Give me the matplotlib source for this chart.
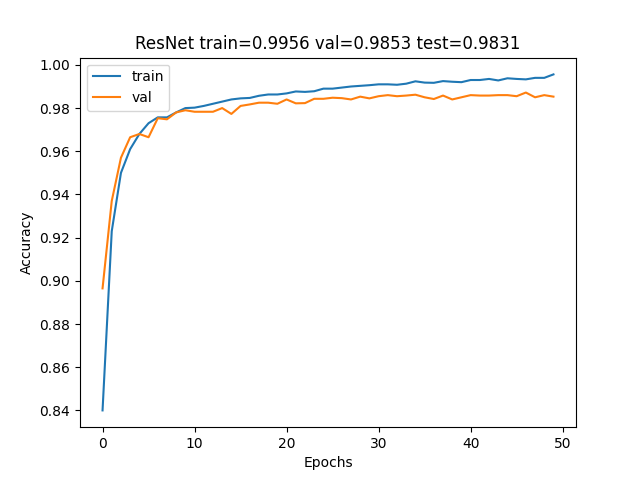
import matplotlib.pyplot as plt

train = [0.840, 0.923, 0.950, 0.961, 0.968, 0.973, 0.9757, 0.9757, 0.978, 0.980,
         0.9802, 0.981, 0.982, 0.983, 0.984, 0.9845, 0.9847, 0.9857, 0.9863, 0.9863,
         0.9868, 0.9877, 0.9875, 0.9878, 0.989, 0.989, 0.9895, 0.990, 0.9903, 0.9906,
         0.991, 0.991, 0.9908, 0.9913, 0.9924, 0.9918, 0.9917, 0.9925, 0.9922, 0.992,
         0.993, 0.993, 0.9935, 0.9928, 0.9938, 0.9935, 0.9933, 0.994, 0.994, 0.9956]
val = [0.8965, 0.937, 0.957, 0.9665, 0.968, 0.9665, 0.9753, 0.9748, 0.978, 0.979,
       0.9783, 0.9783, 0.9783, 0.980, 0.9773, 0.981, 0.9817, 0.9825, 0.9825, 0.982,
       0.984, 0.9822, 0.9823, 0.9843, 0.9843, 0.9848, 0.9846, 0.984, 0.9853, 0.9845,
       0.9855, 0.986, 0.9855, 0.9858, 0.9862, 0.985, 0.9842, 0.9858, 0.984, 0.985,
       0.986, 0.9858, 0.9858, 0.986, 0.986, 0.9855, 0.9872, 0.985, 0.986, 0.9853]
epochs = list(range(len(train)))

plt.figure(figsize=(6.4, 4.8), dpi=100)
plt.plot(epochs, train, label="train")
plt.plot(epochs, val, label="val")
plt.xlabel("Epochs")
plt.ylabel("Accuracy")
plt.title("ResNet train=0.9956 val=0.9853 test=0.9831")
plt.legend(loc="upper left")
plt.savefig("out.png", dpi=100)
